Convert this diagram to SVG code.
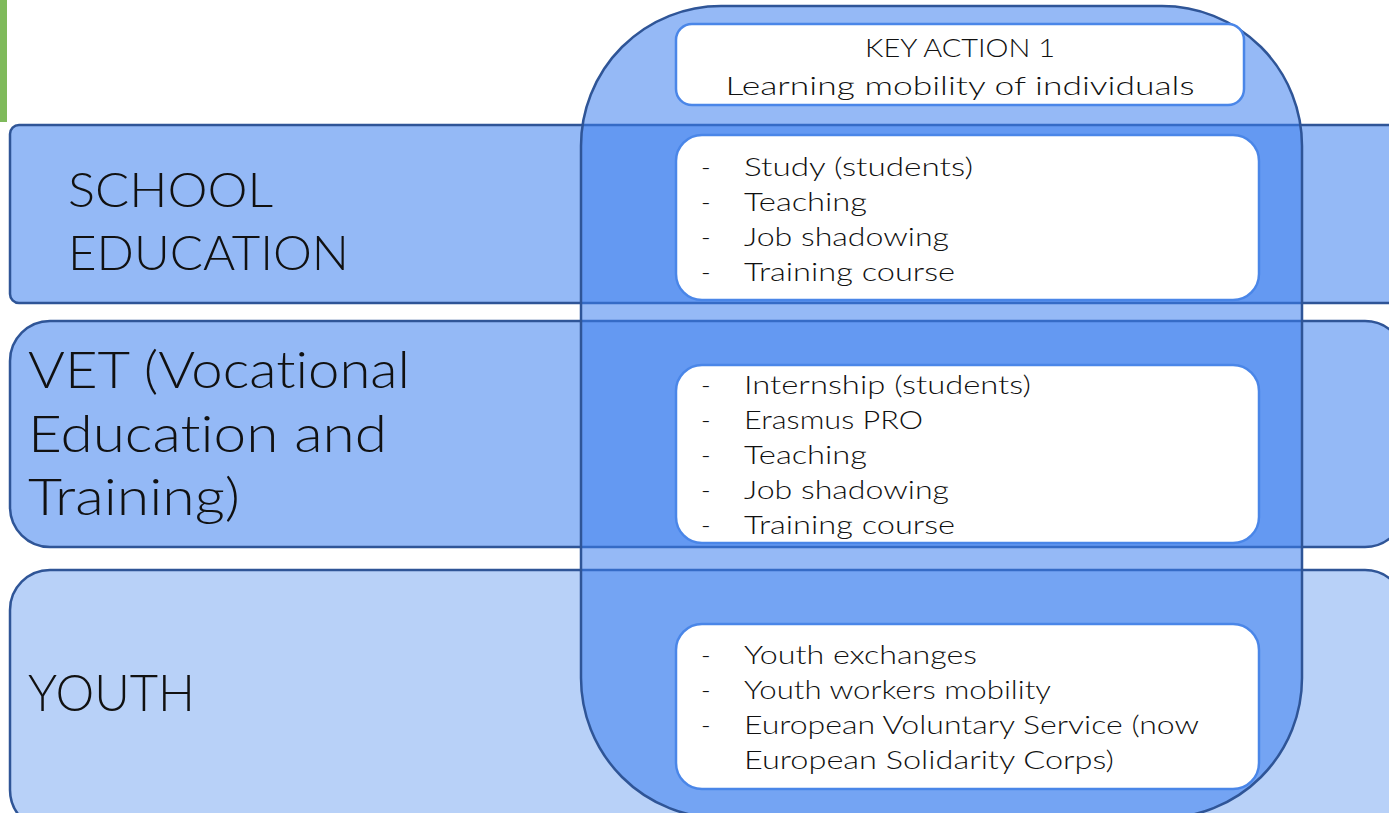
<svg xmlns="http://www.w3.org/2000/svg" width="1389" height="813" viewBox="0 0 1389 813">
<style>
.band{fill:#94b9f6;stroke:#2f5597;stroke-width:2.5}
.youth{fill:#b8d1f8;stroke:#2f5597;stroke-width:2.5}
.ka{fill:#3c7eee;fill-opacity:0.54;stroke:#2f5597;stroke-width:2.5}
.box{fill:#ffffff;stroke:#4a86e8;stroke-width:2.5}
text{font-family:"Lato","Liberation Sans","DejaVu Sans",sans-serif;font-weight:300;fill:#111111;font-variant-ligatures:none;font-feature-settings:"liga" 0,"clig" 0,"dlig" 0}
.big{font-size:48px}
.vet{font-size:51px}
.item{font-size:26px}
</style>
<rect x="0" y="0" width="7" height="122" fill="#7fba5b"/>
<g id="school">
<rect class="band" x="10" y="125" width="1395" height="178" rx="9"/>
<text class="big" x="68" y="207" textLength="205" lengthAdjust="spacingAndGlyphs">SCHOOL</text>
<text class="big" x="68" y="270" textLength="281" lengthAdjust="spacingAndGlyphs">EDUCATION</text>
</g>
<g id="vet">
<rect class="band" x="10" y="321" width="1395" height="226" rx="40"/>
<text class="vet" x="28" y="388" textLength="382" lengthAdjust="spacingAndGlyphs">VET (Vocational</text>
<text class="vet" x="28" y="452" textLength="359" lengthAdjust="spacingAndGlyphs">Education and</text>
<text class="vet" x="28" y="515" textLength="212" lengthAdjust="spacingAndGlyphs">Training)</text>
</g>
<g id="youth">
<rect class="youth" x="10" y="570" width="1395" height="260" rx="40"/>
<text class="vet" x="28" y="711" textLength="167" lengthAdjust="spacingAndGlyphs">YOUTH</text>
</g>
<g id="key-action">
<rect class="ka" x="581" y="6" width="721" height="812" rx="140"/>
</g>
<g id="ka-title">
<rect class="box" x="676" y="24" width="568" height="81" rx="16"/>
<text class="item" x="960" y="57" text-anchor="middle" textLength="190" lengthAdjust="spacingAndGlyphs">KEY ACTION 1</text>
<text class="item" x="960" y="95" text-anchor="middle" textLength="469" lengthAdjust="spacingAndGlyphs">Learning mobility of individuals</text>
</g>
<g id="school-list">
<rect class="box" x="676" y="135" width="583" height="165" rx="26"/>
<text class="item" x="701" y="176">-</text>
<text class="item" x="744" y="176" textLength="229" lengthAdjust="spacingAndGlyphs">Study (students)</text>
<text class="item" x="701" y="211">-</text>
<text class="item" x="744" y="211" textLength="123" lengthAdjust="spacingAndGlyphs">Teaching</text>
<text class="item" x="701" y="246">-</text>
<text class="item" x="744" y="246" textLength="205" lengthAdjust="spacingAndGlyphs">Job shadowing</text>
<text class="item" x="701" y="281">-</text>
<text class="item" x="744" y="281" textLength="211" lengthAdjust="spacingAndGlyphs">Training course</text>
</g>
<g id="vet-list">
<rect class="box" x="676" y="365" width="583" height="178" rx="26"/>
<text class="item" x="701" y="394">-</text>
<text class="item" x="744" y="394" textLength="287" lengthAdjust="spacingAndGlyphs">Internship (students)</text>
<text class="item" x="701" y="429">-</text>
<text class="item" x="744" y="429" textLength="179" lengthAdjust="spacingAndGlyphs">Erasmus PRO</text>
<text class="item" x="701" y="464">-</text>
<text class="item" x="744" y="464" textLength="123" lengthAdjust="spacingAndGlyphs">Teaching</text>
<text class="item" x="701" y="499">-</text>
<text class="item" x="744" y="499" textLength="205" lengthAdjust="spacingAndGlyphs">Job shadowing</text>
<text class="item" x="701" y="534">-</text>
<text class="item" x="744" y="534" textLength="211" lengthAdjust="spacingAndGlyphs">Training course</text>
</g>
<g id="youth-list">
<rect class="box" x="676" y="624" width="583" height="165" rx="26"/>
<text class="item" x="701" y="664">-</text>
<text class="item" x="744" y="664" textLength="233" lengthAdjust="spacingAndGlyphs">Youth exchanges</text>
<text class="item" x="701" y="699">-</text>
<text class="item" x="744" y="699" textLength="307" lengthAdjust="spacingAndGlyphs">Youth workers mobility</text>
<text class="item" x="701" y="734">-</text>
<text class="item" x="744" y="734" textLength="455" lengthAdjust="spacingAndGlyphs">European Voluntary Service (now</text>
<text class="item" x="744" y="769" textLength="370" lengthAdjust="spacingAndGlyphs">European Solidarity Corps)</text>
</g>
<g id="connectors"></g>
</svg>
